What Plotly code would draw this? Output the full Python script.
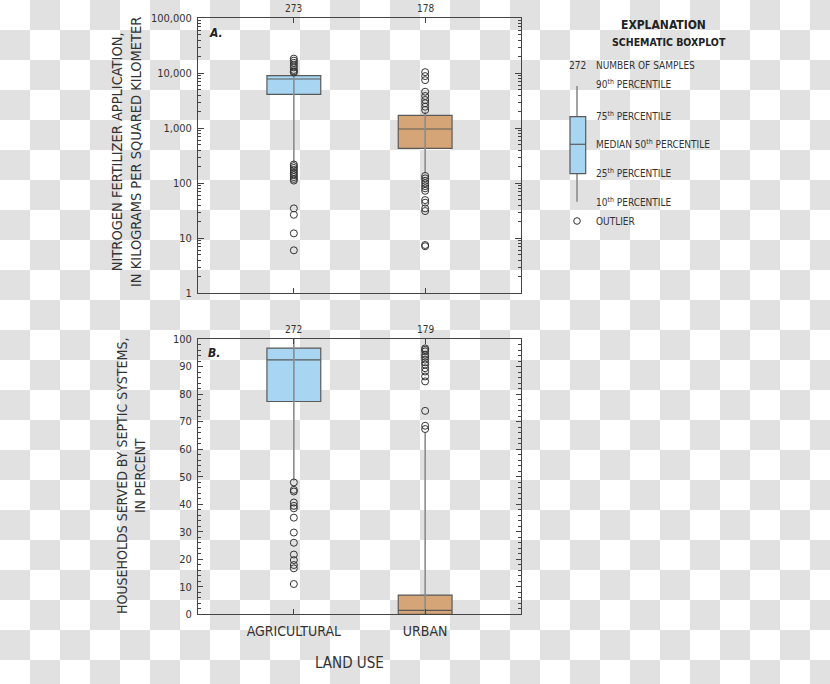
import base64
import plotly.graph_objects as go

W, H = 830, 684

# ---------------- data ----------------
categories = ["AGRICULTURAL", "URBAN"]

# Panel A: nitrogen fertilizer application (kg/km2), log scale
a_q1 = [4150, 433]
a_med = [7870, 971]
a_q3 = [9040, 1722]
a_low = [240, 152]       # 10th percentile
a_high = [9900, 2000]    # 90th percentile
a_n = [273, 178]
a_out_agri = [18500, 17000, 15500, 14000, 12800, 11500, 10800, 10300,
              220, 205, 190, 175, 160, 150, 140, 130, 120, 112,
              35, 26.8, 12.3, 6.05]
a_out_urban = [10500, 8900, 7500, 4620, 3860, 3270, 2850, 2470, 2150,
               136, 123, 111, 100, 89, 81, 73, 49.6, 44.4, 35, 31.3, 7.55, 7.16]

# Panel B: households served by septic systems (percent)
b_q1 = [77.3, 0.0]
b_med = [92.4, 1.45]
b_q3 = [96.7, 7.0]
b_low = [48.5, 0.0]
b_high = [100.0, 66.0]
b_n = [272, 179]
b_out_agri = [47.9, 45.2, 44.6, 40.6, 39.4, 38.5, 35.1, 29.7, 26.0, 21.7,
              19.7, 17.9, 16.7, 11.0]
b_out_urban = [96.6, 96.1, 95.5, 94.3, 93.5, 92.5, 91.5, 90.7, 89.4, 88.2,
               86.4, 84.6, 73.9, 68.5, 67.3]

box_colors = ["#a7d5f2", "#d6a577"]

a_ticks = [1, 10, 100, 1000, 10000, 100000]
a_ticktext = ["1", "10", "100", "1,000", "10,000", "100,000"]

# ---------------- styles ----------------
FONT = "DejaVu Sans Condensed, Liberation Sans Narrow, Roboto, sans-serif"
AX = "#444444"
BOXLINE = "#5a5a5a"
WHISK = "#8c8c8c"
OUTC = "#333333"
TXT = "#333333"


def px(x):
    return x / W


def py(y):
    return 1 - y / H


fig = go.Figure()

panels = [
    ("x", "y", a_q1, a_med, a_q3, a_low, a_high, [a_out_agri, a_out_urban]),
    ("x2", "y2", b_q1, b_med, b_q3, b_low, b_high, [b_out_agri, b_out_urban]),
]

for xa, ya, q1, med, q3, lo, hi, outs in panels:
    for i, cat in enumerate(categories):
        # whisker (10th to 90th percentile)
        fig.add_trace(go.Scatter(x=[cat, cat], y=[lo[i], hi[i]], mode="lines",
                                 line=dict(color=WHISK, width=1.6),
                                 xaxis=xa, yaxis=ya, showlegend=False, hoverinfo="skip"))
        fig.add_trace(go.Box(x=[cat], q1=[q1[i]], median=[med[i]], q3=[q3[i]],
                             lowerfence=[q1[i]], upperfence=[q3[i]],
                             fillcolor=box_colors[i], line=dict(color=BOXLINE, width=1.2),
                             width=0.41, whiskerwidth=0, boxpoints=False,
                             xaxis=xa, yaxis=ya, showlegend=False))
        fig.add_trace(go.Scatter(x=[cat] * len(outs[i]), y=outs[i], mode="markers",
                                 marker=dict(symbol="circle-open", size=7,
                                             line=dict(color=OUTC, width=1), color=OUTC),
                                 xaxis=xa, yaxis=ya, showlegend=False))

xdomain = [px(198), px(521)]
common_x = dict(type="category", categoryorder="array", categoryarray=categories,
                range=[-0.73, 1.73], domain=xdomain, showline=True, linecolor=AX,
                linewidth=1, mirror="ticks", ticks="inside", ticklen=5, tickcolor=AX,
                showgrid=False, zeroline=False, fixedrange=True, automargin=False)

fig.update_layout(
    width=W, height=H, autosize=False,
    margin=dict(l=0, r=0, t=0, b=0, pad=0),
    paper_bgcolor="white",
    plot_bgcolor="rgba(0,0,0,0)",
    font=dict(family=FONT, color=TXT, size=12),
    showlegend=False,
    xaxis=dict(common_x, anchor="y", showticklabels=False),
    yaxis=dict(type="log", range=[0, 5], domain=[py(293.3), py(18.3)], anchor="x",
               tickvals=a_ticks, ticktext=a_ticktext, showline=True, linecolor=AX,
               mirror="ticks", ticks="inside", ticklen=6, tickcolor=AX,
               tickfont=dict(size=11), showgrid=False, zeroline=False,
               ticklabelstandoff=3, automargin=False,
               minor=dict(ticks="inside", ticklen=3, tickcolor=AX,
                          tickvals=[m * 10 ** k for k in range(5) for m in range(2, 10)],
                          showgrid=False)),
    xaxis2=dict(common_x, anchor="y2", showticklabels=True,
                tickfont=dict(size=14, color=TXT), ticklabelstandoff=4),
    yaxis2=dict(range=[0, 100], domain=[py(614.3), py(339)], anchor="x2",
                tickvals=list(range(0, 101, 10)), showline=True, linecolor=AX,
                mirror="ticks", ticks="inside", ticklen=5, tickcolor=AX,
                tickfont=dict(size=11), showgrid=False, zeroline=False,
                ticklabelstandoff=3, automargin=False,
                minor=dict(ticks="inside", ticklen=3, tickcolor=AX, dtick=2, showgrid=False)),
)

# checkerboard background
svg = ('<svg xmlns="http://www.w3.org/2000/svg" width="%d" height="%d">'
       '<defs><pattern id="p" width="60" height="60" patternUnits="userSpaceOnUse">'
       '<rect width="60" height="60" fill="#ffffff"/>'
       '<rect x="30" y="0" width="30" height="30" fill="#e1e1e1"/>'
       '<rect x="0" y="30" width="30" height="30" fill="#e1e1e1"/>'
       '</pattern></defs><rect width="%d" height="%d" fill="url(#p)"/></svg>') % (W, H, W, H)
src = "data:image/svg+xml;base64," + base64.b64encode(svg.encode()).decode()
fig.add_layout_image(dict(source=src, xref="paper", yref="paper", x=0, y=1,
                          sizex=1, sizey=1, xanchor="left", yanchor="top",
                          sizing="stretch", layer="below"))


def note(x, y, text, size, xanchor="center", angle=0, color=TXT, xref="paper"):
    return dict(x=x, y=py(y), xref=xref, yref="paper", text=text, showarrow=False,
                xanchor=xanchor, yanchor="middle", textangle=angle,
                font=dict(size=size, color=color))


ann = []
# sample counts above panels
for i, cat in enumerate(categories):
    ann.append(note(cat, 8, str(a_n[i]), 10, xref="x"))
    ann.append(note(cat, 330, str(b_n[i]), 10, xref="x2"))
# panel letters
ann.append(note(px(216), 33, "<b><i>A.</i></b>", 12, color="#222"))
ann.append(note(px(214), 353, "<b><i>B.</i></b>", 12, color="#222"))
# axis titles
ann.append(note(px(126), 152, "NITROGEN FERTILIZER APPLICATION,<br>IN KILOGRAMS PER SQUARED KILOMETER",
                14.5, angle=-90))
ann.append(note(px(131), 476, "HOUSEHOLDS SERVED BY SEPTIC SYSTEMS,<br>IN PERCENT", 14, angle=-90))
ann.append(note(px(349), 663, "LAND USE", 15))
# explanation
ann.append(note(px(663), 25, "<b>EXPLANATION</b>", 12, color="#222"))
ann.append(note(px(669), 42, "<b>SCHEMATIC BOXPLOT</b>", 10.5, color="#222"))
ann.append(note(px(577), 65, "272", 10))
expl = [(65, "NUMBER OF SAMPLES"), (84, "90<sup>th</sup> PERCENTILE"),
        (116, "75<sup>th</sup> PERCENTILE"), (144, "MEDIAN 50<sup>th</sup> PERCENTILE"),
        (173, "25<sup>th</sup> PERCENTILE"), (202, "10<sup>th</sup> PERCENTILE"),
        (221, "OUTLIER")]
for yy, t in expl:
    ann.append(note(px(594), yy, t, 10, xanchor="left"))
fig.update_layout(annotations=ann)

# explanation glyph
shapes = [
    dict(type="line", xref="paper", yref="paper", x0=px(577), x1=px(577), y0=py(86), y1=py(201.7),
         line=dict(color=WHISK, width=1.6)),
    dict(type="rect", xref="paper", yref="paper", x0=px(570), x1=px(585.7), y0=py(116.7), y1=py(173.7),
         fillcolor=box_colors[0], line=dict(color=BOXLINE, width=1.2)),
    dict(type="line", xref="paper", yref="paper", x0=px(570), x1=px(585.7), y0=py(144.3), y1=py(144.3),
         line=dict(color=BOXLINE, width=1.2)),
    dict(type="circle", xref="paper", yref="paper", x0=px(573.7), x1=px(580.3), y0=py(217.7), y1=py(224.3),
         line=dict(color=OUTC, width=1)),
]
fig.update_layout(shapes=shapes)

fig.write_html("out.html")
